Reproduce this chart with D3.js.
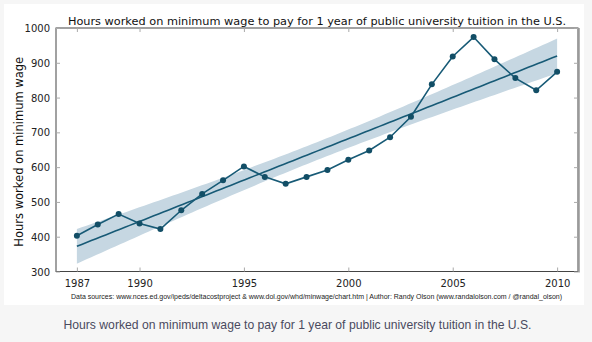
<!DOCTYPE html>
<html><head><meta charset="utf-8">
<script src="https://cdn.jsdelivr.net/npm/d3@7"></script>
<style>
html,body{margin:0;padding:0;background:#f6f6f6;}
svg{display:block;}
</style></head>
<body>
<script>
const years = [1987,1988,1989,1990,1991,1992,1993,1994,1995,1996,1997,1998,1999,2000,2001,2002,2003,2004,2005,2006,2007,2008,2009,2010];
const hours = [403,435,465,438,422,476,523,562,602,572,552,572,592,621,648,686,745,838,918,974,910,856,821,874];
const yTicks = [300,400,500,600,700,800,900,1000];
const xTicks = [1987,1990,1995,2000,2005,2010];
const titleText = "Hours worked on minimum wage to pay for 1 year of public university tuition in the U.S.";
const yLabelText = "Hours worked on minimum wage";
const sourceText = "Data sources: www.nces.ed.gov/ipeds/deltacostproject & www.dol.gov/whd/minwage/chart.htm | Author: Randy Olson (www.randalolson.com / @randal_olson)";
const captionText = "Hours worked on minimum wage to pay for 1 year of public university tuition in the U.S.";

const W = 592, H = 342;
const L = 56, R = 578, T = 28, B = 271.5;
const lineColor = "#175a76", bandColor = "#c6d7e2";

const svg = d3.select("body").append("svg").attr("width", W).attr("height", H);
svg.append("rect").attr("x",0).attr("y",0).attr("width",W).attr("height",H).attr("fill","#f6f6f6");
svg.append("rect").attr("x",4).attr("y",4).attr("width",580).attr("height",301).attr("fill","#ffffff");

const x = d3.scaleLinear().domain([1986, 2011]).range([L, R]);
const y = d3.scaleLinear().domain([300, 1000]).range([B, T]);

// regression (OLS) with 95% CI, as in seaborn regplot
const n = years.length;
const mx = d3.mean(years), my = d3.mean(hours);
const sxx = d3.sum(years, v => (v - mx) ** 2);
const sxy = d3.sum(years.map((v,i) => (v - mx) * (hours[i] - my)));
const slope = sxy / sxx, icpt = my - slope * mx;
const s = Math.sqrt(d3.sum(years.map((v,i) => (hours[i] - (icpt + slope * v)) ** 2)) / (n - 2));
const tval = 2.074;
const grid = d3.range(0, 101).map(i => years[0] + (years[n-1] - years[0]) * i / 100);
const band = grid.map(g => {
  const f = icpt + slope * g;
  const se = s * Math.sqrt(1 / n + (g - mx) ** 2 / sxx);
  return {g, f, lo: f - tval * se, hi: f + tval * se};
});

const g = svg.append("g");
g.append("path").datum(band)
  .attr("d", d3.area().x(d => x(d.g)).y0(d => y(d.lo)).y1(d => y(d.hi)))
  .attr("fill", bandColor).attr("stroke", "none");
g.append("path").datum(band)
  .attr("d", d3.line().x(d => x(d.g)).y(d => y(d.f)))
  .attr("fill", "none").attr("stroke", lineColor).attr("stroke-width", 1.6);

g.append("path").datum(years.map((v,i) => [v, hours[i]]))
  .attr("d", d3.line().x(d => x(d[0])).y(d => y(d[1])))
  .attr("fill", "none").attr("stroke", lineColor).attr("stroke-width", 1.6);
g.selectAll("circle.pt").data(years.map((v,i) => [v, hours[i]])).join("circle")
  .attr("class","pt").attr("cx", d => x(d[0])).attr("cy", d => y(d[1])).attr("r", 3)
  .attr("fill", "#124e66");

// frame
svg.append("rect").attr("x", L).attr("y", T).attr("width", R - L).attr("height", B - T)
  .attr("fill", "none").attr("stroke", "#444").attr("stroke-width", 1);
svg.append("line").attr("x1", R + 1).attr("x2", R + 1).attr("y1", T).attr("y2", B + 1)
  .attr("stroke", "#999").attr("stroke-width", 1.5);

// axes with inward ticks
const fontMain = "DejaVu Sans, sans-serif";
const yAxis = d3.axisLeft(y).tickValues(yTicks).tickSize(-4).tickPadding(6).tickFormat(d3.format("d"));
const xAxis = d3.axisBottom(x).tickValues(xTicks).tickSize(-4).tickPadding(8).tickFormat(d3.format("d"));
const ya = svg.append("g").attr("transform", `translate(${L},0)`).call(yAxis);
const xa = svg.append("g").attr("transform", `translate(0,${B})`).call(xAxis);
[ya, xa].forEach(a => {
  a.select(".domain").remove();
  a.selectAll(".tick line").attr("stroke", "#aaa");
  a.selectAll(".tick text").attr("fill", "#222").style("font-family", fontMain).style("font-size", "10px");
});
ya.selectAll(".tick text").attr("dy", "0.36em");
xa.selectAll(".tick text").attr("dy", "0.75em");
// top and right ticks
svg.append("g").attr("transform", `translate(0,${T})`).call(d3.axisTop(x).tickValues(xTicks).tickSize(-4).tickFormat(""))
  .call(a => { a.select(".domain").remove(); a.selectAll(".tick line").attr("stroke", "#aaa"); });
svg.append("g").attr("transform", `translate(${R},0)`).call(d3.axisRight(y).tickValues(yTicks).tickSize(-4).tickFormat(""))
  .call(a => { a.select(".domain").remove(); a.selectAll(".tick line").attr("stroke", "#aaa"); });

// title
svg.append("text").attr("x", (L + R) / 2).attr("y", 24.5).attr("text-anchor", "middle")
  .style("font-family", fontMain).style("font-size", "11.3px").attr("fill", "#111").text(titleText);
// y label
svg.append("text").attr("transform", `translate(23,${(T + B) / 2 + 2}) rotate(-90)`).attr("text-anchor", "middle")
  .style("font-family", fontMain).style("font-size", "11.5px").attr("fill", "#111").text(yLabelText);
// sources
svg.append("text").attr("x", (L + R) / 2 - 0.5).attr("y", 299).attr("text-anchor", "middle")
  .style("font-family", "Liberation Sans, Arial, sans-serif").style("font-size", "7px").attr("fill", "#222")
  .text(sourceText);
// caption
svg.append("text").attr("x", 297.5).attr("y", 328.5).attr("text-anchor", "middle")
  .style("font-family", "Liberation Sans, Arial, sans-serif").style("font-size", "13.5px").attr("fill", "#4a4a5e")
  .attr("textLength", 468).attr("lengthAdjust", "spacingAndGlyphs")
  .text(captionText);
</script>
</body></html>
